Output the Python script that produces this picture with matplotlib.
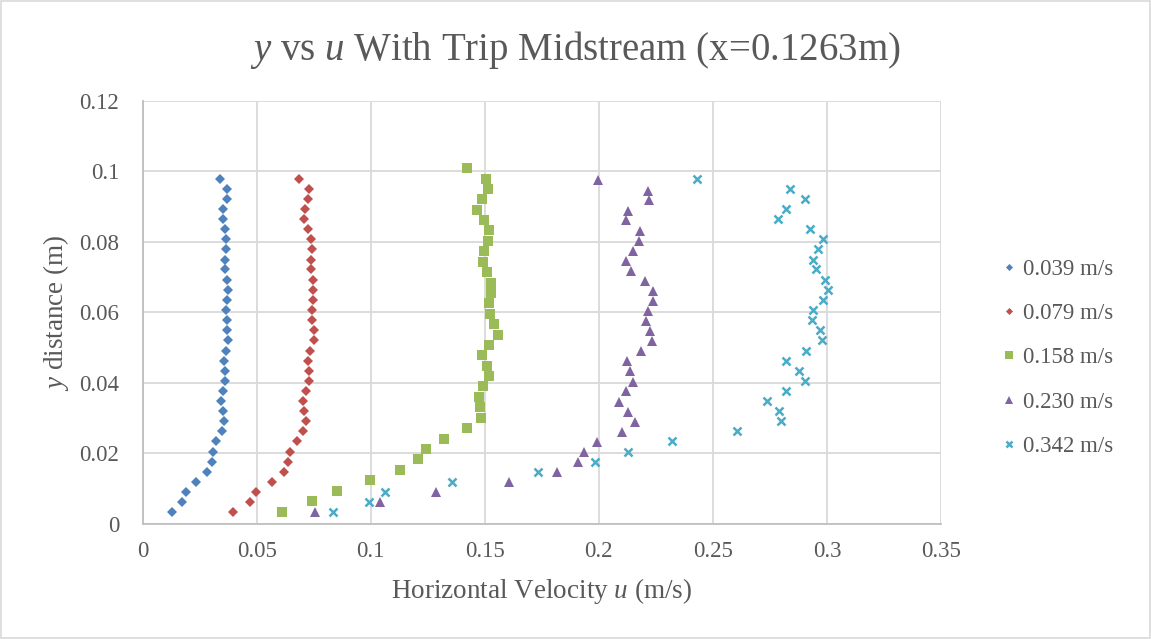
import matplotlib
matplotlib.use("Agg")
import matplotlib.pyplot as plt
from matplotlib.patches import Rectangle

# --- DATA (listed from the top point down) ---
y_common = [0.0980, 0.0951, 0.0923, 0.0894, 0.0865, 0.0836, 0.0808, 0.0779, 0.0750, 0.0722,
            0.0693, 0.0664, 0.0636, 0.0607, 0.0578, 0.0550, 0.0521, 0.0492, 0.0463, 0.0435,
            0.0406, 0.0377, 0.0349, 0.0320, 0.0291, 0.0263, 0.0234, 0.0205, 0.0177, 0.0148,
            0.0119, 0.0090, 0.0062, 0.0033]
y_green = [0.1010, 0.0980, 0.0951, 0.0921, 0.0892, 0.0862, 0.0833, 0.0803, 0.0774, 0.0744,
           0.0715, 0.0685, 0.0656, 0.0626, 0.0596, 0.0567, 0.0537, 0.0508, 0.0478, 0.0449,
           0.0419, 0.0390, 0.0360, 0.0331, 0.0301, 0.0271, 0.0242, 0.0212, 0.0183, 0.0153,
           0.0124, 0.0094, 0.0065, 0.0035]
y_purple = [0.0975, 0.0946, 0.0918, 0.0889, 0.0861, 0.0832, 0.0803, 0.0775, 0.0746, 0.0718,
            0.0689, 0.0661, 0.0632, 0.0604, 0.0575, 0.0547, 0.0518, 0.0490, 0.0461, 0.0433,
            0.0404, 0.0376, 0.0347, 0.0319, 0.0290, 0.0261, 0.0233, 0.0204, 0.0176, 0.0147,
            0.0119, 0.0090, 0.0062, 0.0033]

u_039 = [0.0340, 0.0370, 0.0370, 0.0352, 0.0354, 0.0359, 0.0365, 0.0365, 0.0361, 0.0362,
         0.0368, 0.0373, 0.0370, 0.0367, 0.0370, 0.0371, 0.0374, 0.0364, 0.0355, 0.0359,
         0.0362, 0.0354, 0.0345, 0.0352, 0.0358, 0.0348, 0.0323, 0.0307, 0.0302, 0.0282,
         0.0234, 0.0191, 0.0171, 0.0127]
u_079 = [0.0684, 0.0729, 0.0726, 0.0713, 0.0709, 0.0723, 0.0738, 0.0742, 0.0739, 0.0739,
         0.0745, 0.0748, 0.0745, 0.0741, 0.0742, 0.0750, 0.0751, 0.0735, 0.0723, 0.0728,
         0.0731, 0.0714, 0.0703, 0.0706, 0.0716, 0.0704, 0.0678, 0.0647, 0.0637, 0.0619,
         0.0568, 0.0497, 0.0469, 0.0396]
u_158 = [0.1420, 0.1504, 0.1512, 0.1488, 0.1464, 0.1498, 0.1517, 0.1512, 0.1495, 0.1490,
         0.1508, 0.1527, 0.1527, 0.1518, 0.1521, 0.1540, 0.1558, 0.1518, 0.1486, 0.1509,
         0.1518, 0.1492, 0.1474, 0.1479, 0.1482, 0.1420, 0.1319, 0.1242, 0.1208, 0.1128,
         0.0998, 0.0850, 0.0744, 0.0612]
u_230 = [0.1996, 0.2217, 0.2220, 0.2129, 0.2119, 0.2179, 0.2177, 0.2150, 0.2117, 0.2141,
         0.2204, 0.2236, 0.2237, 0.2217, 0.2208, 0.2223, 0.2231, 0.2183, 0.2123, 0.2138,
         0.2151, 0.2119, 0.2087, 0.2126, 0.2160, 0.2100, 0.1992, 0.1936, 0.1908, 0.1818,
         0.1607, 0.1286, 0.1040, 0.0754]
u_342 = [0.2429, 0.2839, 0.2905, 0.2822, 0.2785, 0.2928, 0.2984, 0.2961, 0.2937, 0.2950,
         0.2991, 0.3003, 0.2981, 0.2937, 0.2936, 0.2969, 0.2980, 0.2908, 0.2820, 0.2879,
         0.2906, 0.2822, 0.2738, 0.2791, 0.2800, 0.2605, 0.2322, 0.2126, 0.1981, 0.1734,
         0.1355, 0.1061, 0.0991, 0.0833]

labels = ["0.039 m/s", "0.079 m/s", "0.158 m/s", "0.230 m/s", "0.342 m/s"]
x_ticks = [0, 0.05, 0.1, 0.15, 0.2, 0.25, 0.3, 0.35]
x_tick_labels = ["0", "0.05", "0.1", "0.15", "0.2", "0.25", "0.3", "0.35"]
y_ticks = [0, 0.02, 0.04, 0.06, 0.08, 0.1, 0.12]
y_tick_labels = ["0", "0.02", "0.04", "0.06", "0.08", "0.1", "0.12"]

# --- STYLE ---
plt.rcParams['font.family'] = ['Liberation Serif', 'DejaVu Serif']
plt.rcParams['mathtext.fontset'] = 'custom'
plt.rcParams['mathtext.rm'] = 'Liberation Serif'
plt.rcParams['mathtext.it'] = 'Liberation Serif:italic'
txt = '#595959'
grid_c = '#D9D9D9'

fig = plt.figure(figsize=(11.51, 6.39), dpi=100)
fig.patches.append(Rectangle((0.001, 0.002), 0.998, 0.996, transform=fig.transFigure,
                             fill=False, edgecolor=grid_c, linewidth=1.2))
ax = fig.add_axes([0.124, 0.180, 0.6935, 0.662])

series = [
    (u_039, y_common, 'D', '#4F81BD', 4.8, labels[0]),
    (u_079, y_common, 'D', '#C0504D', 4.8, labels[1]),
    (u_158, y_green, 's', '#9BBB59', 6.8, labels[2]),
    (u_230, y_purple, '^', '#8064A2', 7.4, labels[3]),
]
for u, y, m, c, ms, lab in series:
    ax.plot(u, y, linestyle='none', marker=m, color=c, markersize=ms,
            markeredgewidth=0, label=lab)
ax.plot(u_342, y_common, linestyle='none', marker='x', color='#4BACC6', markersize=6.3,
        markeredgewidth=1.8, label=labels[4])

ax.set_xlim(0, 0.35)
ax.set_ylim(0, 0.12)
ax.set_xticks(x_ticks)
ax.set_xticklabels(x_tick_labels)
ax.set_yticks(y_ticks)
ax.set_yticklabels(y_tick_labels)
ax.tick_params(length=0, labelsize=16.5, labelcolor=txt)
ax.tick_params(axis='x', pad=12)
ax.tick_params(axis='y', pad=17)
ax.grid(True, color=grid_c, linewidth=1.3)
ax.set_axisbelow(True)
for side in ['top', 'right']:
    ax.spines[side].set_visible(False)
for side in ['left', 'bottom']:
    ax.spines[side].set_color('#BFBFBF')
    ax.spines[side].set_linewidth(1.3)

ax.set_xlabel(r"Horizontal Velocity $\it{u}$ (m/s)", fontsize=19.5, color=txt, labelpad=10)
ax.set_ylabel(r"$\it{y}$ distance (m)", fontsize=19.5, color=txt, labelpad=6)
fig.text(0.5, 1 - 50 / 639, r"$\it{y}$ vs $\it{u}$ With Trip Midstream (x=0.1263m)",
         fontsize=28, color=txt, ha='center', va='center')

leg = ax.legend(loc='center left', bbox_to_anchor=(0.851, 0.440),
                bbox_transform=fig.transFigure, frameon=False, fontsize=16.5,
                labelspacing=1.02, handletextpad=0.2, markerscale=0.75, handlelength=0.8)
for t in leg.get_texts():
    t.set_color(txt)

fig.savefig("out.png", dpi=100)
